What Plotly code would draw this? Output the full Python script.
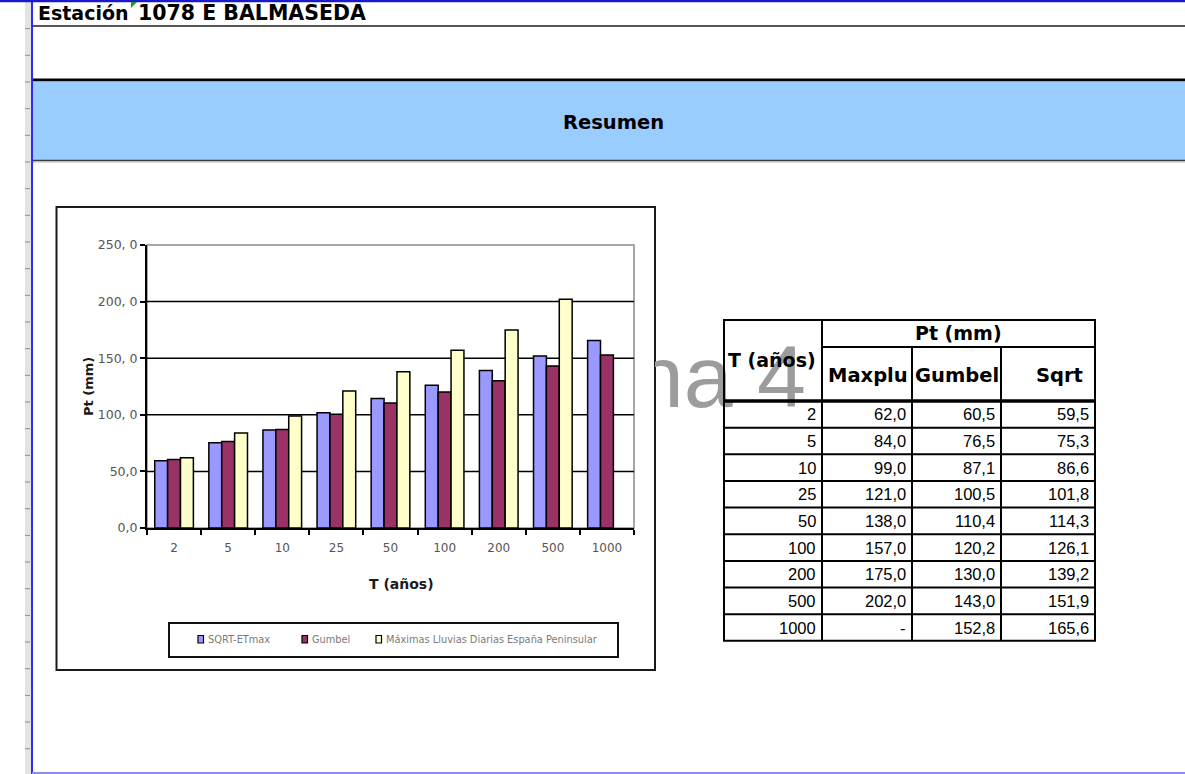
import numpy as np
import plotly.graph_objects as go

W, H = 1185, 774

# Return periods (years) and precipitation estimates Pt (mm)
T_LABELS = ["2", "5", "10", "25", "50", "100", "200", "500", "1000"]
SQRT_ETMAX = [59.5, 75.3, 86.6, 101.8, 114.3, 126.1, 139.2, 151.9, 165.6]
GUMBEL = [60.5, 76.5, 87.1, 100.5, 110.4, 120.2, 130.0, 143.0, 152.8]
MAXPLU = [62.0, 84.0, 99.0, 121.0, 138.0, 157.0, 175.0, 202.0, None]

SERIES_NAMES = ["SQRT-ETmax", "Gumbel", "Máximas Lluvias Diarias España Peninsular"]
SERIES_VALUES = [SQRT_ETMAX, GUMBEL, MAXPLU]
SERIES_COLORS = ["#9999FF", "#993366", "#FFFFCC"]

Y_TICKS = [0, 50, 100, 150, 200, 250]
Y_TICK_TEXT = ["0,0", "50,0", "100, 0", "150, 0", "200, 0", "250, 0"]

TABLE_HEADERS = ["Maxplu", "Gumbel", "Sqrt"]
TABLE_VALUES = [MAXPLU, GUMBEL, SQRT_ETMAX]

SHEET_TITLE_A = "Estación"
SHEET_TITLE_B = "1078 E BALMASEDA"
SECTION_TITLE = "Resumen"
WATERMARK = "Página 4"

SANS = "DejaVu Sans, sans-serif"
ARIAL = "Liberation Sans, Arial, sans-serif"


def px(x):
    return x / W


def py(y):
    return 1 - y / H


def fmt(v):
    return "-" if v is None else f"{v:.1f}".replace(".", ",")


shapes = []
annotations = []


def rect(x0, y0, x1, y1, fill=None, line_color=None, line_width=0, layer="below"):
    shapes.append(dict(
        type="rect", xref="paper", yref="paper",
        x0=px(x0), x1=px(x1), y0=py(y1), y1=py(y0),
        fillcolor=fill if fill else "rgba(0,0,0,0)",
        line=dict(color=line_color if line_color else "rgba(0,0,0,0)", width=line_width),
        layer=layer,
    ))


def hline(y, x0, x1, color, width, layer="below"):
    shapes.append(dict(type="line", xref="paper", yref="paper",
                       x0=px(x0), x1=px(x1), y0=py(y), y1=py(y),
                       line=dict(color=color, width=width), layer=layer))


def vline(x, y0, y1, color, width, layer="below"):
    shapes.append(dict(type="line", xref="paper", yref="paper",
                       x0=px(x), x1=px(x), y0=py(y0), y1=py(y1),
                       line=dict(color=color, width=width), layer=layer))


def text(x, y, s, size, family=SANS, color="#000", xanchor="center", yanchor="middle", angle=0):
    annotations.append(dict(
        x=px(x), y=py(y), xref="paper", yref="paper", text=s, showarrow=False,
        xanchor=xanchor, yanchor=yanchor, textangle=angle,
        font=dict(family=family, size=size, color=color),
    ))


# ---- spreadsheet frame ----
rect(25, 0, 31, H, fill="#E3E3E3")
for yt in np.arange(162 - 26.67 * 5, H, 26.67):
    hline(yt, 25, 30, "#8c8c8c", 1)
vline(32, 0, H, "#2b2bff", 2)
hline(1, 0, W, "#1a1acc", 2.5)
hline(773, 32, W, "#8c8cf0", 2)
hline(26, 33, W, "#555555", 2)

# section band
hline(80, 33, W, "#000000", 3)
rect(33, 81.5, W, 160, fill="#99CCFF")
hline(160.5, 33, W, "#3a3a3a", 1.5)
hline(162, 33, W, "#b0b0b0", 1)

# small green marker in the title cell
shapes.append(dict(type="path", xref="paper", yref="paper",
                   path=f"M {px(131)} {py(2)} L {px(137)} {py(2)} L {px(131)} {py(8)} Z",
                   fillcolor="#1e9e1e", line=dict(width=0), layer="above"))

text(36, 13, f"<b>{SHEET_TITLE_A}</b>", 19, SANS, "#000", xanchor="left")
text(136, 13, f"<b>{SHEET_TITLE_B}</b>", 20.5, SANS, "#000", xanchor="left")
text(613, 122, f"<b>{SECTION_TITLE}</b>", 19.5, SANS, "#000")

# ---- chart object ----
rect(56.5, 207, 655, 670, fill="#FFFFFF", line_color="#1a1a1a", line_width=2)
# plot-area border
shapes.append(dict(type="rect", xref="x domain", yref="y domain", x0=0, x1=1, y0=0, y1=1,
                   line=dict(color="#8a8a8a", width=1.5), fillcolor="rgba(0,0,0,0)", layer="below"))
# horizontal gridlines at the inner ticks
for v in Y_TICKS[1:-1]:
    shapes.append(dict(type="line", xref="x domain", yref="y", x0=0, x1=1, y0=v, y1=v,
                       line=dict(color="#000000", width=1.5), layer="below"))

fig = go.Figure()
for name, vals, color in zip(SERIES_NAMES, SERIES_VALUES, SERIES_COLORS):
    fig.add_trace(go.Bar(
        x=T_LABELS, y=vals, name=name, xaxis="x", yaxis="y",
        marker=dict(color=color, line=dict(color="#000000", width=1.5)),
        showlegend=False, hoverinfo="skip",
    ))

text(88, 387, "<b>Pt (mm)</b>", 13, SANS, "#1a1a1a", angle=-90)
text(402, 584, "<b>T (años)</b>", 14, SANS, "#1a1a1a")

# legend box
rect(169, 623, 618, 657, fill="#FFFFFF", line_color="#111111", line_width=2)
legend_x = [198, 302, 376]
for lx, name, color in zip(legend_x, SERIES_NAMES, SERIES_COLORS):
    rect(lx, 635.5, lx + 5.5, 643, fill=color, line_color="#000", line_width=1.2)
    text(lx + 8, 639.5, name, 9.8, SANS, "#7a7a7a", xanchor="left")

# ---- summary table ----
col_edges = [724, 822, 912, 1001, 1095]
t_top, h_split, h_bottom = 320, 347, 401
row_h = 26.65
n_rows = len(T_LABELS)
t_bottom = h_bottom + row_h * n_rows

rect(724, t_top, 1095, t_bottom, line_color="#000", line_width=2, layer="above")
vline(col_edges[1], t_top, t_bottom, "#000", 2, layer="above")
for xe in col_edges[2:-1]:
    vline(xe, h_split, t_bottom, "#000", 2, layer="above")
hline(h_split, col_edges[1], col_edges[-1], "#000", 2, layer="above")
hline(h_bottom, col_edges[0], col_edges[-1], "#000", 3.5, layer="above")
for i in range(1, n_rows):
    hline(h_bottom + i * row_h, col_edges[0], col_edges[-1], "#000", 2, layer="above")

text((col_edges[1] + col_edges[-1]) / 2, 333.5, "<b>Pt (mm)</b>", 19, SANS)
text(726, 360, "<b>T (años)</b>", 19, SANS, xanchor="left")
header_x = [868, 957, 1059]
for hx, hname in zip(header_x, TABLE_HEADERS):
    text(hx, 375, f"<b>{hname}</b>", 19.5, SANS)

for i, t in enumerate(T_LABELS):
    cy = h_bottom + (i + 0.5) * row_h
    text(col_edges[1] - 4, cy, t, 16.5, ARIAL, xanchor="right")
    for j, vals in enumerate(TABLE_VALUES):
        text(col_edges[j + 2] - 4, cy, fmt(vals[i]), 16.5, ARIAL, xanchor="right")

# page-break watermark, clipped at the chart object's right edge
fig.add_trace(go.Scatter(
    x=[806], y=[429], mode="text", text=[WATERMARK], textposition="top left",
    textfont=dict(family=ARIAL, size=88, color="#9c9c9c"),
    xaxis="x3", yaxis="y3", cliponaxis=True, showlegend=False, hoverinfo="skip",
))

fig.update_layout(
    width=W, height=H, margin=dict(l=0, r=0, t=0, b=0, pad=0, autoexpand=False),
    paper_bgcolor="#FFFFFF", plot_bgcolor="rgba(0,0,0,0)",
    barmode="group", bargap=0.2857, bargroupgap=0,
    showlegend=False,
    xaxis=dict(
        domain=[px(147), px(634)], anchor="y", type="category", automargin=False,
        showline=True, linecolor="#000", linewidth=2,
        ticks="outside", tickson="boundaries", ticklen=5, tickwidth=1.5, tickcolor="#000",
        tickfont=dict(family=SANS, size=12, color="#555"), ticklabelstandoff=8,
        showgrid=False, zeroline=False, fixedrange=True,
    ),
    yaxis=dict(
        domain=[py(528), py(245)], anchor="x", range=[0, 250], automargin=False,
        tickvals=Y_TICKS, ticktext=Y_TICK_TEXT,
        showline=True, linecolor="#000", linewidth=2,
        ticks="outside", ticklen=5, tickwidth=1.5, tickcolor="#000",
        tickfont=dict(family=SANS, size=12.5, color="#555"),
        showgrid=False, zeroline=False, fixedrange=True,
    ),
    xaxis3=dict(domain=[px(655), 1], range=[655, W], visible=False, anchor="y3",
                automargin=False, fixedrange=True),
    yaxis3=dict(domain=[0, 1], range=[H, 0], visible=False, anchor="x3",
                automargin=False, fixedrange=True),
    shapes=shapes,
    annotations=annotations,
)

fig.write_html("out.html")
